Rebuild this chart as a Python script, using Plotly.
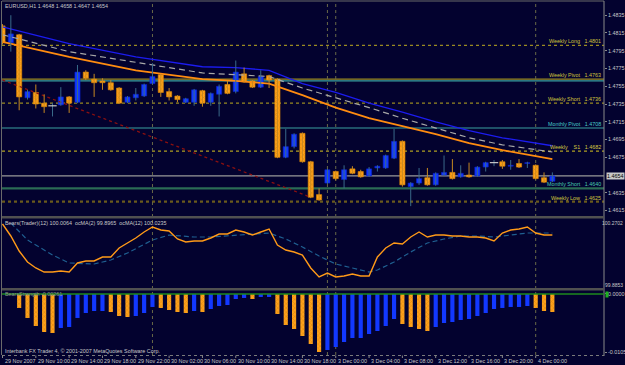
import plotly.graph_objects as go

W, H = 625, 365
FONT = "Liberation Sans, Arial, sans-serif"

# ---------------- data ----------------
bar_idx = list(range(67))
opens = [1.4823, 1.4804, 1.4813, 1.4742, 1.4748, 1.4736, 1.4733, 1.4734, 1.4743, 1.4737,
         1.4771, 1.4763, 1.4761, 1.4759, 1.4753, 1.4737, 1.4742, 1.4744, 1.4758, 1.4768,
         1.4749, 1.4744, 1.4737, 1.4737, 1.4750, 1.4737, 1.4746, 1.4757, 1.4749, 1.4769,
         1.4761, 1.4754, 1.4767, 1.4763, 1.4675, 1.4687, 1.4702, 1.4670, 1.4633, 1.4646,
         1.4659, 1.4650, 1.4662, 1.4659, 1.4654, 1.4663, 1.4663, 1.4674, 1.4693, 1.4642,
         1.4646, 1.4652, 1.4644, 1.4655, 1.4658, 1.4653, 1.4655, 1.4654, 1.4664, 1.4669,
         1.4670, 1.4665, 1.4668, 1.4668, 1.4666, 1.4652, 1.4648]
highs = [1.4825, 1.4835, 1.4814, 1.4751, 1.4757, 1.4746, 1.4736, 1.4754, 1.4744, 1.4779,
         1.4773, 1.4769, 1.4764, 1.4762, 1.4754, 1.4744, 1.4753, 1.4758, 1.4781, 1.4769,
         1.4753, 1.4745, 1.4742, 1.4752, 1.4751, 1.4748, 1.4757, 1.4761, 1.4784, 1.4776,
         1.4762, 1.4773, 1.4768, 1.4764, 1.4707, 1.4702, 1.4703, 1.4671, 1.4640, 1.4662,
         1.4660, 1.4666, 1.4665, 1.4661, 1.4664, 1.4666, 1.4678, 1.4707, 1.4694, 1.4647,
         1.4663, 1.4663, 1.4658, 1.4677, 1.4673, 1.4666, 1.4669, 1.4665, 1.4670, 1.4672,
         1.4672, 1.4672, 1.4673, 1.4670, 1.4667, 1.4658, 1.4658]
lows = [1.4802, 1.4794, 1.4728, 1.4740, 1.4730, 1.4725, 1.4721, 1.4733, 1.4725, 1.4736,
        1.4762, 1.4743, 1.4751, 1.4750, 1.4735, 1.4736, 1.4739, 1.4743, 1.4757, 1.4743,
        1.4739, 1.4737, 1.4736, 1.4733, 1.4732, 1.4733, 1.4721, 1.4746, 1.4747, 1.4759,
        1.4753, 1.4753, 1.4753, 1.4674, 1.4674, 1.4685, 1.4669, 1.4629, 1.4626, 1.4645,
        1.4649, 1.4640, 1.4656, 1.4652, 1.4653, 1.4659, 1.4662, 1.4673, 1.4642, 1.4620,
        1.4644, 1.4643, 1.4643, 1.4654, 1.4650, 1.4652, 1.4652, 1.4653, 1.4659, 1.4665,
        1.4662, 1.4661, 1.4663, 1.4663, 1.4650, 1.4646, 1.4647]
closes = [1.4804, 1.4814, 1.4743, 1.4749, 1.4735, 1.4732, 1.4733, 1.4743, 1.4736, 1.4771,
          1.4764, 1.4759, 1.4759, 1.4751, 1.4736, 1.4743, 1.4746, 1.4757, 1.4766, 1.4748,
          1.4743, 1.4740, 1.4741, 1.4751, 1.4736, 1.4747, 1.4755, 1.4747, 1.4771, 1.4760,
          1.4754, 1.4766, 1.4762, 1.4675, 1.4687, 1.4701, 1.4670, 1.4630, 1.4627, 1.4661,
          1.4651, 1.4661, 1.4657, 1.4653, 1.4662, 1.4665, 1.4677, 1.4693, 1.4644, 1.4646,
          1.4651, 1.4644, 1.4657, 1.4658, 1.4651, 1.4657, 1.4653, 1.4664, 1.4669, 1.4669,
          1.4665, 1.4666, 1.4664, 1.4669, 1.4651, 1.4647, 1.4654]

ma_idx = [0, 8, 16, 24, 28, 32, 36, 40, 44, 48, 52, 56, 60, 66]
ma_blue = [1.4822, 1.4803, 1.4788, 1.4777, 1.4776, 1.4773, 1.4758, 1.4748, 1.4736, 1.4726, 1.4715, 1.4705, 1.4697, 1.4688]
ma_gray = [1.4813, 1.4794, 1.4782, 1.4770, 1.4768, 1.4766, 1.4753, 1.4742, 1.4731, 1.4719, 1.4708, 1.4697, 1.4689, 1.4681]
ma_orange = [1.4805, 1.4788, 1.4773, 1.4763, 1.4761, 1.4758, 1.4745, 1.4731, 1.4719, 1.4710, 1.4701, 1.4691, 1.4683, 1.4673]

trend_idx = [0, 37]
trend_val = [1.4762, 1.4630]

level_names = ["Weekly Long", "Weekly Pivot", "Weekly Short", "Monthly Pivot", "Weekly    S1", "Monthly Short", "Weekly Low"]
level_vals = [1.4801, 1.4763, 1.4736, 1.4708, 1.4682, 1.4640, 1.4625]
monthly_extra = 1.4761
current_price = 1.4654

price_ticks = [1.4835, 1.4815, 1.4795, 1.4775, 1.4755, 1.4735, 1.4715, 1.4695, 1.4675, 1.4635, 1.4615]

osc_main = [100.2423, 100.1754, 100.0917, 100.0303, 99.9969, 99.9745, 99.9745, 99.9801, 99.9745, 100.0248,
            100.0359, 100.0359, 100.0582, 100.0582, 100.1084, 100.1363, 100.1642, 100.1977, 100.2256, 100.2088,
            100.2032, 100.1586, 100.1419, 100.1475, 100.1475, 100.1642, 100.1865, 100.1865, 100.2088, 100.1977,
            100.1809, 100.1977, 100.2144, 100.1252, 100.0973, 100.0861, 100.0694, 99.9969, 99.9467, 99.9690,
            99.9467, 99.9522, 99.9634, 99.9522, 99.9522, 100.0582, 100.1084, 100.1363, 100.1307, 100.1698,
            100.1977, 100.1698, 100.1809, 100.1809, 100.1754, 100.1754, 100.1698, 100.1698, 100.1642, 100.1475,
            100.1921, 100.2088, 100.2144, 100.2256, 100.1921, 100.1809, 100.1809]
osc_ma_idx = [1, 3, 6, 8, 11, 13, 15, 18, 20, 23, 25, 28, 32, 34, 36, 38, 40, 42, 44, 45, 47, 49, 51, 53, 55, 57, 59, 61, 63, 66]
osc_ma = [100.2479, 100.1530, 100.0694, 100.0248, 100.0192, 100.0415, 100.0805, 100.1530, 100.1809, 100.1698,
          100.1698, 100.1809, 100.1921, 100.1586, 100.1140, 100.0638, 100.0192, 99.9969, 99.9745, 99.9857,
          100.0303, 100.0861, 100.1363, 100.1586, 100.1754, 100.1754, 100.1698, 100.1809, 100.1921, 100.1921]
osc_max, osc_min = 100.2702, 99.8853

hist_vals = [None, None,
             -0.00253, -0.00434, -0.00579, -0.00688, -0.00706, -0.00615, -0.00597, -0.00434, -0.00344, -0.00308,
             -0.00308, -0.00326, -0.00398, -0.00416, -0.00398, -0.00344, -0.00235, -0.00253, -0.00290, -0.00326,
             -0.00344, -0.00308, -0.00326, -0.00272, -0.00217, -0.00199, -0.00091, -0.00072, -0.00091, -0.00054,
             -0.00054, -0.00362, -0.00561, -0.00634, -0.00760, -0.00905, -0.01050, -0.01014, -0.00959, -0.00869,
             -0.00796, -0.00796, -0.00724, -0.00670, -0.00579, -0.00453, -0.00543, -0.00597, -0.00634, -0.00670,
             -0.00597, -0.00525, -0.00507, -0.00471, -0.00453, -0.00398, -0.00344, -0.00272, -0.00253, -0.00235,
             -0.00235, -0.00217, -0.00253, -0.00308, -0.00326]
hist_ticks = [0.0, -0.0105]

time_idx = [0, 4, 8, 12, 16, 20, 24, 28, 32, 36, 40, 44, 48, 52, 56, 60, 64]
time_labels = ["29 Nov 2007", "29 Nov 10:00", "29 Nov 14:00", "29 Nov 18:00", "29 Nov 22:00",
               "30 Nov 02:00", "30 Nov 06:00", "30 Nov 10:00", "30 Nov 14:00", "30 Nov 18:00",
               "3 Dec 00:00", "3 Dec 04:00", "3 Dec 08:00", "3 Dec 12:00", "3 Dec 16:00",
               "3 Dec 20:00", "4 Dec 00:00"]
separator_idx = [18, 39, 40, 64]

header_main = "EURUSD,H1 1.4648 1.4658 1.4647 1.4654"
header_osc = "Bears(Trader)(12) 100.0064  ocMA(2) 99.8965  ocMA(12) 100.0235"
header_hist = "BearsStrength -0.00261"
copyright_txt = "Interbank FX Trader 4, \u00a9 2001-2007 MetaQuotes Software Corp."

# ---------------- style ----------------
BG = "#03022f"
ORANGE = "#ffa21c"
ORANGE_D = "#c47400"
BLUE = "#1238ff"
GRAYTXT = "#c8c8c8"
FS = 5.4

def pyp(p):
    return 1 - p / H

fig = go.Figure()

up_x, up_b, up_h = [], [], []
dn_x, dn_b, dn_h = [], [], []
dj_x, dj_y = [], []
wu_x, wu_y, wd_x, wd_y = [], [], [], []
for i, o, h, l, c in zip(bar_idx, opens, highs, lows, closes):
    if abs(c - o) < 0.00005:
        dj_x.append(i); dj_y.append(c)
        wu_x += [i, i, None]; wu_y += [l, h, None]
    elif c > o:
        up_x.append(i); up_b.append(o); up_h.append(c - o)
        wu_x += [i, i, None]; wu_y += [l, h, None]
    else:
        dn_x.append(i); dn_b.append(o); dn_h.append(c - o)
        wd_x += [i, i, None]; wd_y += [l, h, None]

shapes = []
level_styles = ["#9a8a22", "#9a8a22", "#9a8a22", "#3aa0a0", "#b0a022", "#2b6b55", "#6a5a1c"]
level_dash = ["dot", "solid", "dot", "solid", "dot", "solid", "dot"]
level_w = [1.3, 1.2, 1.3, 1.2, 1.2, 2.2, 2.2]
for v, col, d, w in zip(level_vals, level_styles, level_dash, level_w):
    shapes.append(dict(type="line", xref="paper", yref="y", x0=2 / W, x1=604 / W, y0=v, y1=v,
                       line=dict(color=col, width=w, dash=d), layer="below"))
shapes.append(dict(type="line", xref="paper", yref="y", x0=2 / W, x1=604 / W, y0=monthly_extra, y1=monthly_extra,
                   line=dict(color="#3aa0a0", width=1.3), layer="below"))
shapes.append(dict(type="line", xref="paper", yref="y", x0=2 / W, x1=604 / W, y0=current_price, y1=current_price,
                   line=dict(color="#9a9a9a", width=1.2), layer="below"))

for s in separator_idx:
    shapes.append(dict(type="line", xref="x", yref="paper", x0=s, x1=s, y0=pyp(355), y1=pyp(1),
                       line=dict(color="#6a6a48", width=1, dash="dot"), layer="below"))

shapes += [
    dict(type="line", xref="paper", yref="paper", x0=2 / W, x1=604 / W, y0=pyp(1), y1=pyp(1), line=dict(color="#6a6a6a", width=1)),
    dict(type="line", xref="paper", yref="paper", x0=1.5 / W, x1=1.5 / W, y0=pyp(355), y1=pyp(1), line=dict(color="#6a6a6a", width=1)),
    dict(type="line", xref="paper", yref="paper", x0=604 / W, x1=604 / W, y0=pyp(356), y1=pyp(1), line=dict(color="#8a8a8a", width=1)),
    dict(type="line", xref="paper", yref="paper", x0=2 / W, x1=604 / W, y0=pyp(355.5), y1=pyp(355.5), line=dict(color="#7a7a7a", width=1, dash="dot")),
    dict(type="rect", xref="paper", yref="paper", x0=2 / W, x1=604 / W, y0=pyp(218.5), y1=pyp(216), fillcolor="#505050", line=dict(width=0)),
    dict(type="rect", xref="paper", yref="paper", x0=2 / W, x1=604 / W, y0=pyp(290.5), y1=pyp(288), fillcolor="#505050", line=dict(width=0)),
]
for t in time_idx:
    shapes.append(dict(type="line", xref="x", yref="paper", x0=t, x1=t, y0=pyp(358), y1=pyp(355.5),
                       line=dict(color="#8a8a8a", width=1)))

fig.add_trace(go.Scatter(x=trend_idx, y=trend_val, mode="lines", line=dict(color="#8b1010", width=1.3, dash="dot"),
                         yaxis="y", hoverinfo="skip"))
fig.add_trace(go.Scatter(x=ma_idx, y=ma_blue, mode="lines", line=dict(color="#1c1cf0", width=1.3), yaxis="y", hoverinfo="skip"))
fig.add_trace(go.Scatter(x=ma_idx, y=ma_gray, mode="lines", line=dict(color="#a8a8a8", width=1.2, dash="6px,4px"), yaxis="y", hoverinfo="skip"))
fig.add_trace(go.Scatter(x=ma_idx, y=ma_orange, mode="lines", line=dict(color="#ff8c10", width=1.8), yaxis="y", hoverinfo="skip"))

fig.add_trace(go.Scatter(x=wu_x, y=wu_y, mode="lines", line=dict(color="#3a6a8a", width=1), yaxis="y", hoverinfo="skip"))
fig.add_trace(go.Scatter(x=wd_x, y=wd_y, mode="lines", line=dict(color="#c88a20", width=1), yaxis="y", hoverinfo="skip"))
fig.add_trace(go.Bar(x=up_x, y=up_h, base=up_b, width=0.62, yaxis="y",
                     marker=dict(color=BLUE, line=dict(color="#0820c8", width=0.6)), hoverinfo="skip"))
fig.add_trace(go.Bar(x=dn_x, y=dn_h, base=dn_b, width=0.62, yaxis="y",
                     marker=dict(color=ORANGE, line=dict(color="#e08a00", width=0.6),
                                 pattern=dict(shape="x", fgcolor=ORANGE_D, bgcolor=ORANGE, size=3, solidity=0.35)),
                     hoverinfo="skip"))
fig.add_trace(go.Scatter(x=dj_x, y=dj_y, mode="markers", yaxis="y",
                         marker=dict(symbol="line-ew", size=6, line=dict(color="#c8c8c8", width=1.2)), hoverinfo="skip"))

fig.add_trace(go.Scatter(x=osc_ma_idx, y=osc_ma, mode="lines", line=dict(color="#1f5f90", width=1.2, dash="5px,3px"),
                         yaxis="y2", hoverinfo="skip"))
fig.add_trace(go.Scatter(x=bar_idx, y=osc_main, mode="lines", line=dict(color="#ff9a18", width=1.4),
                         yaxis="y2", hoverinfo="skip"))

ho_x, ho_y, hb_x, hb_y = [], [], [], []
prev = None
for i, v in zip(bar_idx, hist_vals):
    if v is None:
        continue
    if prev is None or v < prev:
        ho_x.append(i); ho_y.append(v)
    else:
        hb_x.append(i); hb_y.append(v)
    prev = v
fig.add_trace(go.Bar(x=hb_x, y=hb_y, width=0.5, yaxis="y3",
                     marker=dict(color=BLUE, line=dict(width=0)), hoverinfo="skip"))
fig.add_trace(go.Bar(x=ho_x, y=ho_y, width=0.5, yaxis="y3",
                     marker=dict(color=ORANGE, line=dict(width=0),
                                 pattern=dict(shape="x", fgcolor=ORANGE_D, bgcolor=ORANGE, size=3, solidity=0.35)),
                     hoverinfo="skip"))
shapes.append(dict(type="line", xref="paper", yref="y3", x0=2 / W, x1=604 / W, y0=0, y1=0,
                   line=dict(color="#1e8a1e", width=1.5)))
shapes.append(dict(type="rect", xref="paper", yref="paper", x0=605.5 / W, x1=608.5 / W, y0=pyp(297.5), y1=pyp(291.5),
                   fillcolor="#20b020", line=dict(width=0)))

ann = []
tf = dict(family=FONT, size=FS, color=GRAYTXT)
ann.append(dict(text=header_main, xref="paper", yref="paper", x=3 / W, y=pyp(6), xanchor="left", yanchor="middle",
                showarrow=False, font=tf))
ann.append(dict(text=header_osc, xref="paper", yref="paper", x=3 / W, y=pyp(223), xanchor="left", yanchor="middle",
                showarrow=False, font=tf))
ann.append(dict(text=header_hist, xref="paper", yref="paper", x=3 / W, y=pyp(294), xanchor="left", yanchor="middle",
                showarrow=False, font=dict(family=FONT, size=FS, color="#8a9a8a")))
ann.append(dict(text=copyright_txt, xref="paper", yref="paper", x=3 / W, y=pyp(351), xanchor="left", yanchor="middle",
                showarrow=False, font=tf))
label_cols = ["#d2c23c", "#d2c23c", "#d2c23c", "#48c8c8", "#d8c840", "#48c8b0", "#d2c23c"]
for name, v, col in zip(level_names, level_vals, label_cols):
    ann.append(dict(text=f"{name}   {v:.4f}", xref="paper", yref="y", x=603 / W, y=v, xanchor="right",
                    yanchor="bottom", yshift=-1, showarrow=False, font=dict(family=FONT, size=FS, color=col)))
for t, lab in zip(time_idx, time_labels):
    ann.append(dict(text=lab, xref="x", yref="paper", x=t, y=pyp(361), xanchor="left", yanchor="middle",
                    xshift=0, showarrow=False, font=tf))
ann.append(dict(text=f"{current_price:.4f}", xref="paper", yref="y", x=606 / W, y=current_price, xanchor="left",
                yanchor="middle", showarrow=False, bgcolor="#c8c8c8", borderpad=0,
                font=dict(family=FONT, size=FS, color="#000000")))
ann.append(dict(text=f"{osc_max:.4f}", xref="paper", yref="paper", x=624.5 / W, y=pyp(222.5), xanchor="right",
                yanchor="middle", showarrow=False, font=dict(family=FONT, size=5.0, color=GRAYTXT)))
ann.append(dict(text=f"{osc_min:.4f}", xref="paper", yref="paper", x=624.5 / W, y=pyp(285), xanchor="right",
                yanchor="middle", showarrow=False, font=dict(family=FONT, size=5.0, color=GRAYTXT)))

axfont = dict(family=FONT, size=FS, color=GRAYTXT)
fig.update_layout(
    width=W, height=H, margin=dict(l=0, r=0, t=0, b=0),
    paper_bgcolor=BG, plot_bgcolor=BG, showlegend=False, barmode="overlay",
    xaxis=dict(domain=[2 / W, 604 / W], range=[-0.06, 72.2], showgrid=False, zeroline=False,
               showticklabels=False, ticks="", anchor="y3", showline=False),
    yaxis=dict(domain=[1 - 216 / H, 1 - 2 / H], range=[1.46089, 1.48499], side="right", anchor="x",
               tickvals=price_ticks, ticktext=[f"{v:.4f}" for v in price_ticks], ticks="outside", ticklen=2,
               tickcolor="#8a8a8a", tickfont=axfont, showgrid=False, zeroline=False),
    yaxis2=dict(domain=[1 - 288 / H, 1 - 219 / H], range=[osc_min, osc_max], side="right", anchor="x",
                showticklabels=False, ticks="", showgrid=False, zeroline=False),
    yaxis3=dict(domain=[1 - 355 / H, 1 - 291 / H], range=[-0.01104, 0.00054], side="right", anchor="x",
                tickvals=hist_ticks, ticktext=["0.0000", "-0.0105"], ticks="outside", ticklen=2,
                tickcolor="#8a8a8a", tickfont=axfont, showgrid=False, zeroline=False),
    shapes=shapes, annotations=ann,
)

fig.write_html("out.html")
